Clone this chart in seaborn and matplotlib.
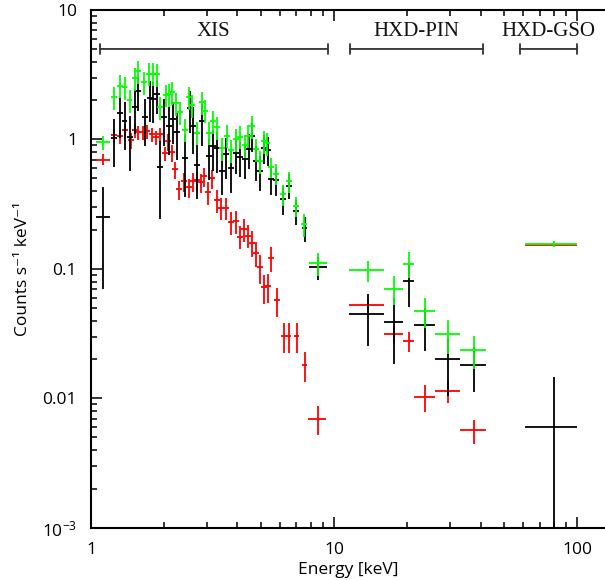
import matplotlib
matplotlib.use("Agg")
import matplotlib.pyplot as plt
import numpy as np
import seaborn as sns

# ---- XIS spectra (energy keV, counts s-1 keV-1, fractional 1-sigma error) ----
xis_bi_e = [1.12, 1.244, 1.311, 1.374, 1.441, 1.518, 1.562, 1.646, 1.735, 1.802,
            1.863, 1.925, 2.029, 2.087, 2.158, 2.231, 2.317, 2.441, 2.536, 2.609,
            2.736, 2.869, 2.952, 3.052, 3.170, 3.293, 3.452, 3.622, 3.778, 3.963,
            4.117, 4.295, 4.441, 4.599, 4.777, 4.977, 5.145, 5.318, 5.525, 5.793,
            6.163, 6.511, 6.970, 7.537, 8.575]
xis_bi_c = [0.948, 2.11, 2.61, 2.52, 2.00, 2.96, 3.37, 2.76, 3.23, 3.23,
            3.18, 1.77, 2.21, 2.23, 2.31, 1.90, 1.62, 1.19, 2.11, 1.83,
            1.13, 1.93, 1.67, 1.13, 1.38, 1.24, 0.86, 1.07, 0.822, 1.00,
            1.05, 0.899, 1.07, 1.26, 0.837, 0.676, 0.965, 0.931, 0.613, 0.546,
            0.376, 0.474, 0.305, 0.2226, 0.1109]
xis_bi_f = [0.12, 0.2, 0.2, 0.2, 0.2, 0.2, 0.2, 0.2, 0.2, 0.2,
            0.2, 0.2, 0.2, 0.2, 0.2, 0.2, 0.2, 0.2, 0.2, 0.2,
            0.2, 0.2, 0.2, 0.2, 0.2, 0.2, 0.2, 0.2, 0.2, 0.2,
            0.2, 0.2, 0.2, 0.2, 0.2, 0.2, 0.2, 0.2, 0.18, 0.18,
            0.18, 0.18, 0.18, 0.2, 0.2]

xis_fi_e = [1.12, 1.244, 1.311, 1.374, 1.448, 1.518, 1.567, 1.662, 1.743, 1.807,
            1.863, 1.925, 2.000, 2.087, 2.168, 2.263, 2.441, 2.543, 2.627, 2.736,
            2.869, 3.052, 3.170, 3.293, 3.452, 3.603, 3.778, 3.963, 4.117, 4.287,
            4.454, 4.599, 4.769, 4.962, 5.145, 5.370, 5.525, 5.793, 6.163, 6.511,
            6.970, 7.556, 8.575]
xis_fi_c = [0.25, 1.02, 1.59, 1.38, 1.04, 1.77, 2.35, 1.48, 2.09, 2.07,
            2.23, 0.608, 1.48, 1.27, 1.43, 1.15, 0.72, 1.74, 1.28, 0.63,
            1.38, 0.752, 0.883, 0.852, 0.569, 0.766, 0.599, 0.78, 0.733, 0.705,
            0.848, 1.07, 0.682, 0.569, 0.86, 0.833, 0.497, 0.485, 0.348, 0.441,
            0.2794, 0.2066, 0.1036]
xis_fi_f = [0.72, 0.4, 0.35, 0.4, 0.45, 0.38, 0.3, 0.4, 0.35, 0.35,
            0.3, 0.6, 0.4, 0.4, 0.35, 0.4, 0.5, 0.35, 0.4, 0.45,
            0.35, 0.35, 0.35, 0.35, 0.35, 0.35, 0.35, 0.3, 0.3, 0.3,
            0.3, 0.25, 0.3, 0.3, 0.25, 0.25, 0.25, 0.25, 0.25, 0.22,
            0.22, 0.22, 0.2]

xis_r_e = [1.12, 1.244, 1.317, 1.381, 1.462, 1.518, 1.562, 1.638, 1.702, 1.784,
           1.854, 1.925, 2.020, 2.077, 2.158, 2.221, 2.307, 2.418, 2.536, 2.634,
           2.736, 2.842, 2.924, 3.038, 3.155, 3.293, 3.436, 3.603, 3.778, 3.963,
           4.117, 4.276, 4.441, 4.612, 4.769, 4.977, 5.170, 5.370, 5.525, 5.848,
           6.191, 6.492, 7.003, 7.556, 8.551]
xis_r_c = [0.70, 1.074, 1.055, 1.174, 0.982, 1.174, 1.133, 1.133, 1.153, 1.093,
           1.036, 1.093, 0.780, 0.965, 0.794, 0.587, 0.411, 0.474, 0.426, 0.474,
           0.483, 0.466, 0.518, 0.390, 0.500, 0.341, 0.296, 0.296, 0.229, 0.233,
           0.178, 0.202, 0.181, 0.160, 0.132, 0.1027, 0.0720, 0.0733, 0.1205, 0.0571,
           0.0306, 0.0306, 0.0306, 0.0180, 0.0070]
xis_r_f = [0.1, 0.12, 0.12, 0.12, 0.14, 0.12, 0.13, 0.12, 0.12, 0.13,
           0.12, 0.13, 0.13, 0.15, 0.15, 0.15, 0.17, 0.17, 0.17, 0.17,
           0.17, 0.17, 0.17, 0.2, 0.17, 0.2, 0.2, 0.2, 0.2, 0.2,
           0.2, 0.2, 0.2, 0.22, 0.22, 0.25, 0.25, 0.25, 0.22, 0.25,
           0.26, 0.26, 0.26, 0.26, 0.26]

xis_first_bin = (1.05, 1.20)
xis_last_half = 0.73
xis_bin_frac = 0.028

# ---- HXD-PIN (bin edges keV) ----
pin_edges = [11.5, 16.0, 19.2, 21.3, 26.0, 33.0, 42.0]
pin_green_c = [0.0979, 0.0703, 0.1097, 0.0472, 0.0312, 0.0236]
pin_green_err = [0.018, 0.018, 0.025, 0.012, 0.009, 0.0066]
pin_black_c = [0.0451, 0.0391, 0.0805, 0.0368, 0.0200, 0.0180]
pin_black_err = [0.0195, 0.0205, 0.030, 0.0135, 0.0095, 0.0068]
pin_red_c = [0.0526, 0.0316, 0.0277, 0.0102, 0.0114, 0.00566]
pin_red_err = [0.006, 0.005, 0.005, 0.0024, 0.0022, 0.0012]

# ---- HXD-GSO ----
gso_edges = [61.0, 100.0]
gso_green_c, gso_green_err = [0.157], [0.008]
gso_red_c, gso_red_err = [0.152], [0.002]
gso_black_c, gso_black_err = [0.00597], [0.0086]

# instrument bands shown above the data
bands = ["XIS", "HXD-PIN", "HXD-GSO"]
band_lo = [1.09, 11.6, 58.0]
band_hi = [9.4, 41.0, 100.0]

yticks = [1e-3, 1e-2, 1e-1, 1, 10]
ytick_labels = ["$\\mathregular{10^{-3}}$", "0.01", "0.1", "1", "10"]
xticks = [1, 10, 100]
xtick_labels = ["1", "10", "100"]

GREEN, BLACK, RED = "#00ff00", "black", "#ff0000"


def xis_xerr(e):
    e = np.asarray(e, float)
    xe = e * xis_bin_frac
    xe[0] = (xis_first_bin[1] - xis_first_bin[0]) / 2
    xe[-1] = xis_last_half
    return xe


def binned(edges):
    edges = np.asarray(edges, float)
    return (edges[1:] + edges[:-1]) / 2, (edges[1:] - edges[:-1]) / 2


sns.set_theme(style="ticks")
plt.rcParams["font.family"] = ["Open Sans", "DejaVu Sans"]
plt.rcParams["mathtext.fontset"] = "custom"
plt.rcParams["mathtext.rm"] = "Open Sans"

fig = plt.figure(figsize=(6.05, 5.8), dpi=100)
ax = fig.add_axes([0.1504, 0.0897, 0.8496, 0.8931])
ax.set_xscale("log")
ax.set_yscale("log")

eb = dict(fmt="none", elinewidth=1.3, capsize=0)

# XIS
for e, c, f, col in [(xis_r_e, xis_r_c, xis_r_f, RED),
                     (xis_fi_e, xis_fi_c, xis_fi_f, BLACK),
                     (xis_bi_e, xis_bi_c, xis_bi_f, GREEN)]:
    c = np.asarray(c)
    ax.errorbar(e, c, xerr=xis_xerr(e), yerr=c * np.asarray(f), ecolor=col, **eb)

# PIN + GSO
pc, pw = binned(pin_edges)
gc, gw = binned(gso_edges)
for c, err, col in [(pin_red_c, pin_red_err, RED),
                    (pin_black_c, pin_black_err, BLACK),
                    (pin_green_c, pin_green_err, GREEN)]:
    ax.errorbar(pc, c, xerr=pw, yerr=err, ecolor=col, **eb)
for c, err, col in [(gso_black_c, gso_black_err, BLACK),
                    (gso_red_c, gso_red_err, RED),
                    (gso_green_c, gso_green_err, GREEN)]:
    ax.errorbar(gc, c, xerr=gw, yerr=err, ecolor=col, **eb)

# instrument brackets
for name, lo, hi in zip(bands, band_lo, band_hi):
    ax.annotate("", xy=(lo, 5.0), xytext=(hi, 5.0),
                arrowprops=dict(arrowstyle="|-|, widthA=0.3, widthB=0.3",
                                color="#333333", lw=1.3, shrinkA=0, shrinkB=0))
    ax.text(np.sqrt(lo * hi), 6.8, name, ha="center", va="center",
            family=["Liberation Serif", "DejaVu Serif"], fontsize=15, color="#111111")

ax.set_xlim(1, 130)
ax.set_ylim(1e-3, 10)
ax.set_xticks(xticks, xtick_labels)
ax.set_yticks(yticks, ytick_labels)

ax.tick_params(which="both", direction="in", top=True, right=False,
               color="black", width=1.1, labelsize=12.5, labelcolor="black")
ax.tick_params(which="major", length=8, pad=10)
ax.tick_params(which="minor", length=4.5)
for side in ["left", "bottom", "top"]:
    ax.spines[side].set_linewidth(1.5)
    ax.spines[side].set_color("black")
ax.spines["right"].set_visible(False)

ax.set_xlabel("Energy [keV]", fontsize=12.5, color="black", labelpad=3)
ax.set_ylabel("Counts s\u207b\u00b9 keV\u207b\u00b9", fontsize=12.5, color="black", labelpad=8)

fig.savefig("out.png", dpi=100)
